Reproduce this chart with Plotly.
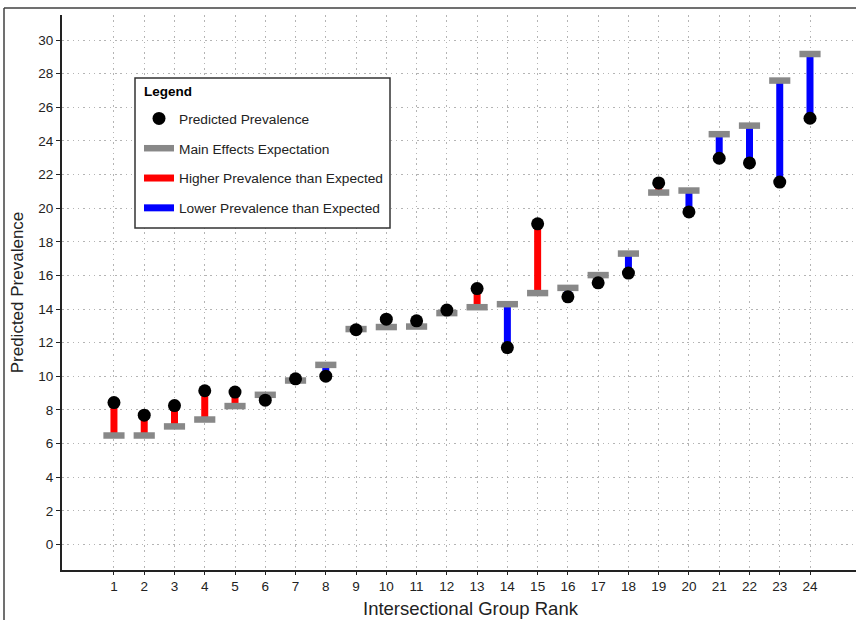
import plotly.graph_objects as go

ranks = list(range(1, 25))
predicted = [8.44, 7.69, 8.26, 9.14, 9.06, 8.58, 9.85, 10.01, 12.77, 13.40, 13.30, 13.94,
             15.22, 11.71, 19.07, 14.73, 15.56, 16.14, 21.50, 19.78, 22.97, 22.69, 21.55, 25.35]
expected = [6.48, 6.48, 7.02, 7.43, 8.23, 8.90, 9.75, 10.68, 12.81, 12.93, 12.96, 13.76,
            14.11, 14.29, 14.95, 15.26, 16.02, 17.30, 20.93, 21.05, 24.40, 24.91, 27.59, 29.17]
y_ticks = list(range(0, 31, 2))

FONT = "Liberation Sans, Arial, sans-serif"
TXT = "#222222"
half = 0.35

# build segment lists
hx, hy, lx, ly, gx, gy = [], [], [], [], [], []
for r, p, e in zip(ranks, predicted, expected):
    if p >= e:
        hx += [r, r, None]; hy += [e, p, None]
    else:
        lx += [r, r, None]; ly += [e, p, None]
    gx += [r - half, r + half, None]; gy += [e, e, None]

fig = go.Figure()
fig.add_trace(go.Scatter(x=hx, y=hy, mode="lines", line=dict(color="#ff0000", width=7),
                         name="Higher Prevalence than Expected", legendgroup="c", legendrank=3,
                         hoverinfo="skip"))
fig.add_trace(go.Scatter(x=lx, y=ly, mode="lines", line=dict(color="#0000ff", width=7),
                         name="Lower Prevalence than Expected", legendgroup="d", legendrank=4,
                         hoverinfo="skip"))
fig.add_trace(go.Scatter(x=gx, y=gy, mode="lines", line=dict(color="#888888", width=6.5),
                         name="Main Effects Expectation", legendgroup="b", legendrank=2,
                         hoverinfo="skip"))
fig.add_trace(go.Scatter(x=ranks, y=predicted, mode="markers",
                         marker=dict(color="black", size=13),
                         name="Predicted Prevalence", legendgroup="a", legendrank=1))

W, H = 856, 620
L, R, T, B = 62, 0, 15, 50
pw, ph = W - L - R, H - T - B

def px(x):
    return (x - L) / pw

def py(y):
    return (H - B - y) / ph

GRID = dict(showgrid=True, gridcolor="#b4b4b4", griddash="1.5px,3.8px", gridwidth=1)

fig.update_layout(
    width=W, height=H,
    margin=dict(l=L, r=R, t=T, b=B, pad=0),
    paper_bgcolor="white", plot_bgcolor="white",
    font=dict(family=FONT, size=13.5, color=TXT),
    showlegend=True,
    legend=dict(
        x=px(139), y=py(103), xanchor="left", yanchor="top",
        bgcolor="rgba(0,0,0,0)", borderwidth=0,
        font=dict(size=13.7, color=TXT),
        traceorder="grouped", tracegroupgap=9,
        itemsizing="trace",
    ),
    xaxis=dict(
        range=[-0.717, 25.52], tickvals=ranks, ticktext=[str(r) for r in ranks],
        zeroline=False, showline=True, linecolor=TXT, linewidth=2,
        ticks="outside", ticklen=3, tickcolor=TXT, tickfont=dict(size=13.5, color=TXT),
        **GRID,
    ),
    yaxis=dict(
        range=[-1.52, 31.49], tickvals=y_ticks,
        zeroline=False, showline=True, linecolor=TXT, linewidth=2,
        ticks="outside", ticklen=4, tickcolor=TXT, tickfont=dict(size=13.5, color=TXT),
        title=dict(text="Predicted Prevalence", font=dict(size=17, color=TXT), standoff=10),
        **GRID,
    ),
    annotations=[
        dict(text="Intersectional Group Rank", xref="paper", yref="paper",
             x=px(471), y=py(608), xanchor="center", yanchor="middle",
             showarrow=False, font=dict(size=18.5, color=TXT)),
        dict(text="<b>Legend</b>", xref="paper", yref="paper",
             x=px(142), y=py(91), xanchor="left", yanchor="middle",
             showarrow=False, font=dict(size=13.5, color="black")),
    ],
    shapes=[
        dict(type="rect", xref="paper", yref="paper", layer="above",
             x0=px(135), x1=px(390), y0=py(228), y1=py(78),
             fillcolor="white", line=dict(color="#333333", width=1.5)),
        dict(type="line", xref="paper", yref="paper", x0=px(4), x1=px(860), y0=py(8), y1=py(8),
             line=dict(color="#404040", width=1.5)),
        dict(type="line", xref="paper", yref="paper", x0=px(4), x1=px(4), y0=py(8), y1=py(630),
             line=dict(color="#404040", width=1.5)),
    ],
)

fig.write_html("out.html")
